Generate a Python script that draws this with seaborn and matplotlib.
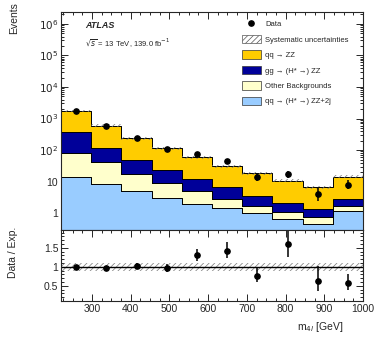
import numpy as np
import pandas as pd
import matplotlib
matplotlib.use('Agg')
import matplotlib.pyplot as plt
import seaborn as sns
from matplotlib.patches import Patch
from matplotlib.lines import Line2D
from matplotlib.ticker import (MultipleLocator, LogLocator, FixedLocator,
                               NullFormatter, FuncFormatter)

# valori
bin_edges = [220, 298, 376, 454, 532, 610, 688, 766, 844, 922, 1000]
qq_zz = [1365, 472, 187, 89, 47.3, 24.5, 14.7, 8.5, 5.13, 11.4]
gg_zz = [286, 77, 31, 14.2, 6.6, 3.65, 1.83, 1.03, 0.64, 1.13]
other_bkg = [65.5, 32.7, 11.9, 5.7, 3.1, 1.35, 0.67, 0.44, 0.28, 0.52]
qq_zz2j = [13.5, 8.3, 5.1, 3.1, 2.0, 1.5, 1.0, 0.63, 0.45, 1.15]
data_counts = [1730, 570, 240, 108, 77, 44, 14, 17, 4, 8]
syst_frac = 0.1
y_ticks = [1, 10, 1e2, 1e3, 1e4, 1e5, 1e6]

labels = ['qq → ZZ', 'gg → (H* →) ZZ', 'Other Backgrounds', 'qq → (H* →) ZZ+2j']
colors = ['#FFCC00', '#000099', '#FFFFCC', '#99CCFF']

sns.set_style('ticks')
plt.rcParams['font.family'] = ['Liberation Sans', 'DejaVu Sans']
plt.rcParams['hatch.linewidth'] = 0.5
plt.rcParams['xtick.direction'] = 'in'
plt.rcParams['ytick.direction'] = 'in'

edges = np.array(bin_edges, dtype=float)
centers = (edges[:-1] + edges[1:]) / 2

rows = []
for lab, vals in zip(labels, [qq_zz, gg_zz, other_bkg, qq_zz2j]):
    for c, v in zip(centers, vals):
        rows.append({'m': c, 'w': v, 'proc': lab})
df = pd.DataFrame(rows)

total = np.array(qq_zz) + np.array(gg_zz) + np.array(other_bkg) + np.array(qq_zz2j)
data = np.array(data_counts, dtype=float)
err_hi = np.sqrt(data + 0.25) + 0.5
err_lo = np.sqrt(data + 0.25) - 0.5
ratio = data / total

fig = plt.figure(figsize=(3.82, 3.46), dpi=100)
ax = fig.add_axes([61 / 382, 1 - 230 / 346, 302 / 382, 218 / 346])
axr = fig.add_axes([61 / 382, 1 - 301 / 346, 302 / 382, 71 / 346], sharex=ax)

sns.histplot(data=df, x='m', weights='w', hue='proc', hue_order=labels,
             multiple='stack', bins=bin_edges, element='step',
             palette=dict(zip(labels, colors)), alpha=1,
             edgecolor='black', linewidth=0.7, legend=False, ax=ax)
ax.set_yscale('log')

tot_ext = np.r_[total, total[-1]]
ax.fill_between(edges, tot_ext * (1 - syst_frac), tot_ext * (1 + syst_frac),
                step='post', facecolor='none', edgecolor='#777777',
                hatch='//////', linewidth=0)
ax.errorbar(centers, data, yerr=[err_lo, err_hi], fmt='o', color='black',
            ms=3.8, elinewidth=1.1, capsize=0)

ax.set_xlim(220, 1000)
ax.set_ylim(0.29, 2.4e6)
ax.set_xlabel('')
ax.set_ylabel('')

def log_fmt(v, pos):
    if v == 1:
        return '1'
    if v == 10:
        return '10'
    return r'$10^{%d}$' % int(round(np.log10(v)))

ax.yaxis.set_major_locator(FixedLocator(y_ticks))
ax.yaxis.set_major_formatter(FuncFormatter(log_fmt))
ax.yaxis.set_minor_locator(LogLocator(base=10, subs=np.arange(2, 10), numticks=20))
ax.yaxis.set_minor_formatter(NullFormatter())
ax.xaxis.set_major_locator(MultipleLocator(100))
ax.xaxis.set_minor_locator(MultipleLocator(25))
ax.tick_params(labelbottom=False)

# panoul de raport
band_lo = np.full(len(edges), 1 - syst_frac)
band_hi = np.full(len(edges), 1 + syst_frac)
axr.fill_between(edges, band_lo, band_hi, step='post', facecolor='none',
                 edgecolor='#777777', hatch='//////', linewidth=0)
axr.axhline(1, color='black', lw=1.0)
axr.errorbar(centers, ratio, yerr=[err_lo / total, err_hi / total], fmt='o',
             color='black', ms=3.8, elinewidth=1.1, capsize=0)
axr.set_ylim(0.1, 1.97)
axr.yaxis.set_major_locator(FixedLocator([0.5, 1, 1.5]))
axr.yaxis.set_minor_locator(MultipleLocator(0.1))
axr.yaxis.set_major_formatter(FuncFormatter(lambda v, p: ('%g' % v)))

for a in (ax, axr):
    a.tick_params(which='both', top=True, right=True, labelsize=7.5, pad=2,
                  width=0.7)
    a.tick_params(which='major', length=5)
    a.tick_params(which='minor', length=2.5)
    for s in a.spines.values():
        s.set_linewidth(0.8)

fig.text(14 / 382, 1 - 2 / 346, 'Events', rotation=90, ha='center', va='top', fontsize=7.5)
fig.text(13 / 382, 1 - 227 / 346, 'Data / Exp.', rotation=90, ha='center', va='top', fontsize=7.5)
fig.text(343 / 382, 1 - 330 / 346, r'm$_{4l}$ [GeV]', ha='right', va='baseline', fontsize=7.5)

fig.text(85 / 382, 1 - 25 / 346, 'ATLAS', fontsize=6.5, fontweight='bold',
         fontstyle='italic', va='center', ha='left')
fig.text(85 / 382, 1 - 43 / 346, r'$\sqrt{s}$ = 13 TeV, 139.0 fb$^{-1}$',
         fontsize=5.5, va='center', ha='left')

handles = [Line2D([], [], marker='o', color='black', ls='none', ms=3.8),
           Patch(facecolor='white', edgecolor='#555555', hatch='//////', lw=0.5)]
handles += [Patch(facecolor=c, edgecolor='#333333', lw=0.5) for c in colors]
leg_labels = ['Data', 'Systematic uncertainties'] + labels
ax.legend(handles, leg_labels, loc='upper right', bbox_to_anchor=(0.97, 0.99),
          frameon=False, fontsize=5.5, handlelength=2.4, handleheight=1.3,
          labelspacing=0.88, handletextpad=0.6, borderaxespad=0.3)

fig.savefig('out.png', dpi=100)
